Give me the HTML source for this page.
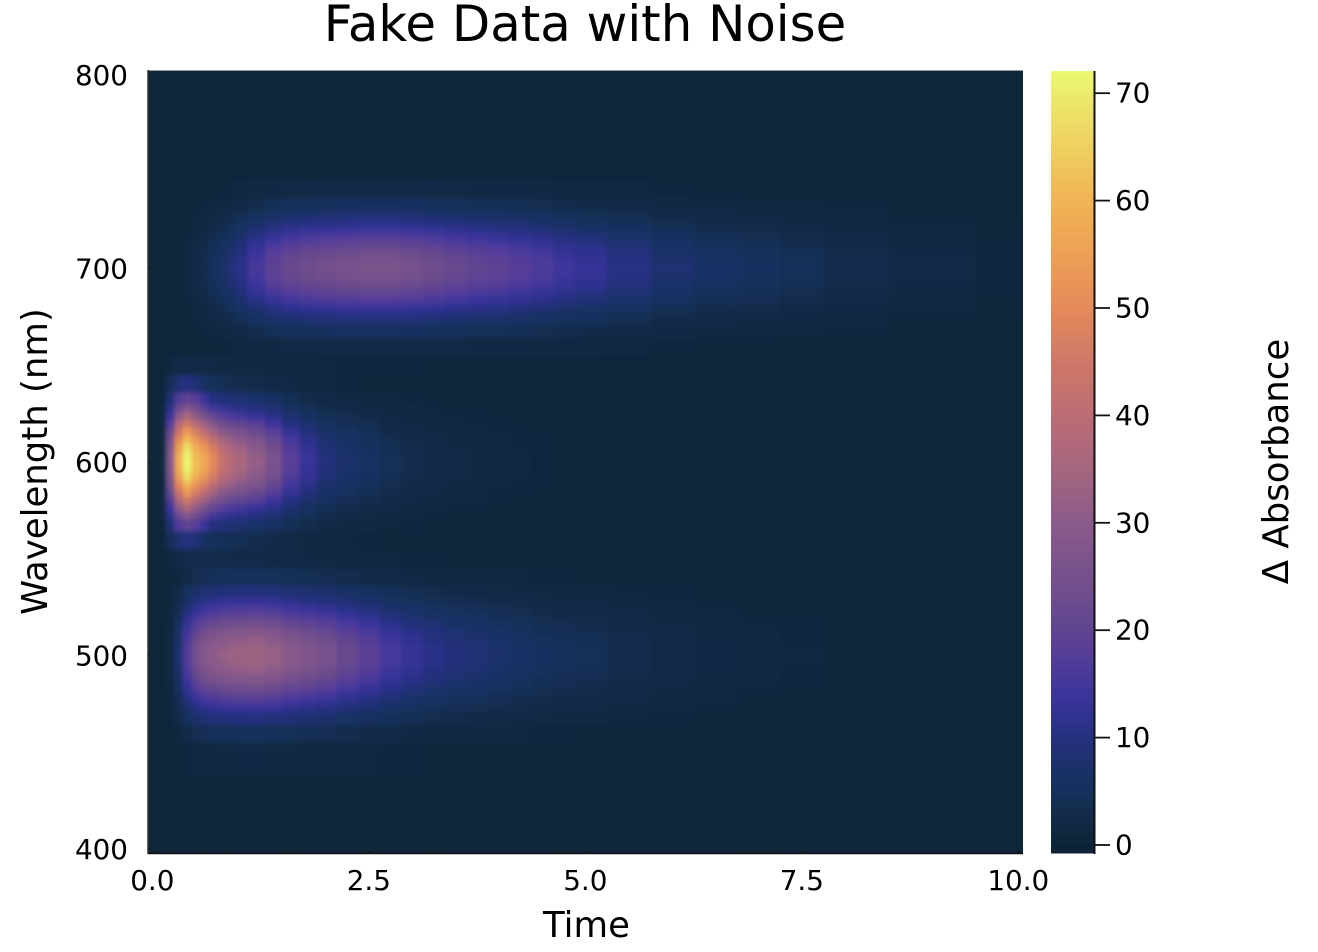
<!DOCTYPE html>
<html lang="en">
<head>
<meta charset="utf-8">
<title>Fake Data with Noise</title>
<style>
html,body{margin:0;padding:0;background:#fff;}
svg{display:block;}
text{font-family:"DejaVu Sans","Liberation Sans",sans-serif;fill:#000;}
</style>
</head>
<body>
<svg id="chart" xmlns="http://www.w3.org/2000/svg" width="1318" height="952" viewBox="0 0 1318 952">
  <defs>
    <clipPath id="plot-clip"><rect x="148" y="71" width="875" height="782"/></clipPath>
    <filter id="soften" x="-5%" y="-5%" width="110%" height="110%" color-interpolation-filters="sRGB"><feGaussianBlur stdDeviation="2"/></filter>
  </defs>
  <text x="585" y="41" font-size="49.8" text-anchor="middle">Fake Data with Noise</text>
  <g clip-path="url(#plot-clip)">
    <rect x="148" y="71" width="875" height="782" fill="#0e263a"/>
    <g id="cells" filter="url(#soften)"></g>
  </g>
  <line x1="148" y1="70.5" x2="1023" y2="70.5" stroke="#999" stroke-width="1"/>
  <line x1="148" y1="70" x2="148" y2="854" stroke="#333" stroke-width="1.5"/>
  <line x1="148" y1="853.5" x2="1023" y2="853.5" stroke="#111" stroke-width="1.5"/>
  <g id="x-ticks"></g>
  <g id="y-ticks"></g>
  <text x="586.5" y="937" font-size="35.5" text-anchor="middle">Time</text>
  <text x="47" y="461.5" font-size="35.5" text-anchor="middle" transform="rotate(-90 47 461.5)">Wavelength (nm)</text>
  <g id="colorbar"></g>
  <line x1="1094.5" y1="71" x2="1094.5" y2="854" stroke="#111" stroke-width="2"/>
  <g id="cb-ticks"></g>
  <text x="1288" y="461.5" font-size="35.5" text-anchor="middle" transform="rotate(-90 1288 461.5)">Δ Absorbance</text>
</svg>
<script>
const xTickValues = [0, 2.5, 5, 7.5, 10];
const xTickLabels = ["0.0", "2.5", "5.0", "7.5", "10.0"];
const yTickValues = [400, 500, 600, 700, 800];
const yTickLabels = ["400", "500", "600", "700", "800"];
const cbTickValues = [0, 10, 20, 30, 40, 50, 60, 70];
const cbTickLabels = ["0", "10", "20", "30", "40", "50", "60", "70"];
const cbRange = [-0.74, 72.07];

const times = [0,.1,.2,.3,.4,.5,.6,.7,.8,.9,1,1.2,1.4,1.6,1.8,2,2.25,2.5,2.75,3,3.25,3.5,3.75,4,4.25,4.5,4.75,5,5.5,6,6.5,7,7.5,8,9,10];
const wavelengths = [790,770,752,740,732,728,724,720,716,712,708,704,700,696,692,688,684,680,676,672,668,660,650,640,632,628,624,620,616,612,608,604,600,596,592,588,584,580,576,572,568,560,550,540,532,528,524,520,516,512,508,504,500,496,492,488,484,480,476,472,468,460,450,425,405];
const absorbance = [
/*790*/[.5,.5,.4,.5,.5,.6,.5,.5,.4,.5,.5,.5,.6,.5,.5,.4,.5,.5,.5,.6,.5,.5,.4,.5,.5,.5,.6,.5,.5,.5,.4,.5,.5,.5,.4,.5],
/*770*/[.4,.5,.5,.5,.5,.5,.4,.5,.6,.5,.5,.5,.5,.4,.5,.5,.6,.5,.5,.5,.4,.5,.5,.5,.5,.6,.5,.5,.4,.5,.5,.5,.5,.6,.5,.5],
/*752*/[.5,.5,.5,.5,.5,.5,.5,.6,.6,.6,.7,.7,.8,.8,.8,.9,.9,.9,.9,.9,.8,.8,.8,.8,.8,.7,.7,.7,.7,.6,.6,.6,.6,.5,.5,.5],
/*740*/[.5,.5,.5,.5,.6,.7,.8,.9,1,1.2,1.4,1.8,2.1,2.3,2.5,2.5,2.6,2.7,2.7,2.6,2.5,2.3,2.2,2.1,2,1.9,1.7,1.6,1.4,1.1,1,.9,.8,.8,.7,.6],
/*732*/[.5,.5,.5,.6,.7,.9,1.1,1.4,1.7,2.1,2.7,3.6,4.4,4.9,5.2,5.4,5.7,5.8,5.8,5.5,5.2,4.9,4.6,4.4,4.1,3.8,3.4,3.1,2.6,2,1.7,1.5,1.3,1.1,.9,.6],
/*728*/[.5,.5,.6,.6,.8,1.1,1.4,1.8,2.3,2.9,3.6,5,6.2,6.9,7.4,7.7,8,8.1,8.1,7.8,7.4,6.9,6.5,6.2,5.7,5.3,4.7,4.2,3.5,2.7,2.3,2,1.7,1.4,1,.7],
/*724*/[.5,.5,.6,.7,.9,1.3,1.7,2.3,3,3.8,4.8,6.7,8.3,9.3,10,10.4,10.8,11,11,10.6,10,9.3,8.7,8.3,7.7,7,6.3,5.6,4.6,3.6,3,2.6,2.1,1.7,1.2,.8],
/*720*/[.5,.5,.6,.8,1,1.6,2.1,2.9,3.7,4.8,6.2,8.6,10.7,12,12.9,13.4,14,14.2,14.2,13.7,12.9,12,11.3,10.7,9.9,9.1,8,7.2,5.9,4.5,3.7,3.2,2.7,2.1,1.5,.9],
/*716*/[.5,.5,.6,.8,1.2,1.8,2.5,3.5,4.5,5.9,7.6,10.6,13.3,15,16,16.7,17.4,17.7,17.7,17,16,15,14,13.3,12.3,11.3,10,8.9,7.2,5.6,4.5,3.9,3.2,2.5,1.7,1],
/*712*/[.5,.5,.7,.9,1.3,2.1,2.9,4.1,5.3,6.9,8.9,12.5,15.7,17.7,18.9,19.7,20.5,20.9,20.9,20.1,18.9,17.7,16.5,15.7,14.5,13.3,11.7,10.5,8.5,6.5,5.3,4.5,3.7,2.9,1.9,1.1],
/*708*/[.5,.5,.7,1,1.4,2.3,3.2,4.6,5.9,7.7,10,14,17.7,20,21.3,22,23,23.6,23.6,22.7,21.3,20,18.6,17.7,16.4,15,13,11.8,9.6,7.3,5.9,5,4.1,3.2,2.1,1.1],
/*704*/[.5,.5,.7,1,1.5,2.5,3.4,4.9,6.4,8.3,10.7,15,19,21.5,23,24,24.9,25.4,25.4,24.4,23,21.5,20,19,17.6,16.1,14.2,12.7,10.3,7.8,6.4,5.4,4.4,3.4,2.3,1.2],
/*700*/[.5,.5,.7,1,1.5,2.5,3.5,5,6.5,8.5,11,15.5,19.5,22,23.5,24.5,25.5,26,26,25,23.5,22,20.5,19.5,18,16.5,14.5,13,10.5,8,6.5,5.5,4.5,3.5,2.3,1.2],
/*696*/[.5,.5,.7,1,1.5,2.5,3.4,4.9,6.4,8.3,10.7,15,19,21.5,23,24,24.9,25.4,25.4,24.4,23,21.5,20,19,17.6,16.1,14.2,12.7,10.3,7.8,6.4,5.4,4.4,3.4,2.3,1.2],
/*692*/[.5,.5,.7,1,1.4,2.3,3.2,4.6,5.9,7.7,10,14,17.7,20,21.3,22,23,23.6,23.6,22.7,21.3,20,18.6,17.7,16.4,15,13,11.8,9.6,7.3,5.9,5,4.1,3.2,2.1,1.1],
/*688*/[.5,.5,.7,.9,1.3,2.1,2.9,4.1,5.3,6.9,8.9,12.5,15.7,17.7,18.9,19.7,20.5,20.9,20.9,20.1,18.9,17.7,16.5,15.7,14.5,13.3,11.7,10.5,8.5,6.5,5.3,4.5,3.7,2.9,1.9,1.1],
/*684*/[.5,.5,.6,.8,1.2,1.8,2.5,3.5,4.5,5.9,7.6,10.6,13.3,15,16,16.7,17.4,17.7,17.7,17,16,15,14,13.3,12.3,11.3,10,8.9,7.2,5.6,4.5,3.9,3.2,2.5,1.7,1],
/*680*/[.5,.5,.6,.8,1,1.6,2.1,2.9,3.7,4.8,6.2,8.6,10.7,12,12.9,13.4,14,14.2,14.2,13.7,12.9,12,11.3,10.7,9.9,9.1,8,7.2,5.9,4.5,3.7,3.2,2.7,2.1,1.5,.9],
/*676*/[.5,.5,.6,.7,.9,1.3,1.7,2.3,3,3.8,4.8,6.7,8.3,9.3,10,10.4,10.8,11,11,10.6,10,9.3,8.7,8.3,7.7,7,6.3,5.6,4.6,3.6,3,2.6,2.1,1.7,1.2,.8],
/*672*/[.5,.5,.6,.6,.8,1.1,1.4,1.8,2.3,2.9,3.6,5,6.2,6.9,7.4,7.7,8,8.1,8.1,7.8,7.4,6.9,6.5,6.2,5.7,5.3,4.7,4.2,3.5,2.7,2.3,2,1.7,1.4,1,.7],
/*668*/[.5,.5,.5,.6,.7,.9,1.1,1.4,1.7,2.1,2.7,3.6,4.4,4.9,5.2,5.4,5.7,5.8,5.8,5.5,5.2,4.9,4.6,4.4,4.1,3.8,3.4,3.1,2.6,2,1.7,1.5,1.3,1.1,.9,.6],
/*660*/[.5,.5,.5,.5,.6,.7,.8,.9,1,1.2,1.4,1.8,2.1,2.3,2.5,2.5,2.6,2.7,2.7,2.6,2.5,2.3,2.2,2.1,2,1.9,1.7,1.6,1.4,1.1,1,.9,.8,.8,.7,.6],
/*650*/[.5,.5,1.3,2.2,2.7,2.4,2.3,2.1,1.9,1.8,1.8,1.8,1.7,1.5,1.4,1.3,1.2,1.2,1.1,1.1,1,1,.9,.9,.9,.8,.8,.8,.7,.7,.6,.6,.6,.6,.5,.5],
/*640*/[.5,.6,4.3,8.3,10,8.9,6,4.8,4.2,3.8,3.6,3.2,2.7,2,1.6,1.3,1.1,1,.8,.8,.7,.7,.6,.6,.6,.6,.5,.5,.5,.5,.5,.5,.5,.5,.5,.5],
/*632*/[.5,.7,8,17,20,18,14,10,9,8.5,7.9,7.1,5.9,4.2,3.2,2.4,1.9,1.6,1.3,1.1,1,.9,.8,.7,.7,.6,.6,.6,.6,.5,.5,.5,.5,.5,.5,.5],
/*628*/[.5,.8,11,22,27,24,19,15,13,12,11,10,8,5.9,4.4,3.2,2.6,2.1,1.7,1.4,1.2,1,.9,.8,.8,.7,.6,.6,.6,.6,.5,.5,.5,.5,.5,.5],
/*624*/[.5,.8,14,29,36,31,25,21,18,16,15,13,11,7.9,5.8,4.2,3.4,2.8,2.1,1.7,1.4,1.2,1.1,1,.9,.8,.7,.7,.6,.6,.5,.5,.5,.5,.5,.5],
/*620*/[.5,.9,17,36,44,38,33,27,24,21,20,18,14,10,7.5,5.4,4.3,3.5,2.7,2.1,1.7,1.5,1.3,1.1,1,.9,.8,.7,.7,.6,.6,.5,.5,.5,.5,.5],
/*616*/[.5,1,21,43,53,46,40,34,29,27,25,22,18,12.6,9.3,6.6,5.2,4.2,3.2,2.5,2.1,1.7,1.4,1.2,1.1,1,.8,.8,.7,.6,.6,.5,.5,.5,.5,.5],
/*612*/[.5,1,24,49,60,52,47,40,35,32,29,26,21,15,11,7.7,6.1,4.9,3.7,2.9,2.3,1.9,1.6,1.4,1.2,1.1,.9,.8,.7,.7,.6,.5,.5,.5,.5,.5],
/*608*/[.5,1,26,54,67,58,52,46,39,36,33,29,24,16.8,12.3,8.7,6.8,5.5,4.1,3.2,2.6,2.1,1.8,1.5,1.3,1.1,.9,.9,.8,.7,.6,.5,.5,.5,.5,.5],
/*604*/[.5,1,28,57,71,61,56,49,42,38,35,31,25.5,18,13,9.3,7.3,5.9,4.4,3.4,2.7,2.3,1.9,1.6,1.4,1.2,1,.9,.8,.7,.6,.5,.5,.5,.5,.5],
/*600*/[.5,1,28,58,72,62,57,50,43,39,36,32,26,18.5,13.5,9.5,7.5,6,4.5,3.5,2.8,2.3,1.9,1.6,1.4,1.2,1,.9,.8,.7,.6,.5,.5,.5,.5,.5],
/*596*/[.5,1,28,57,71,61,56,49,42,38,35,31,25.5,18,13,9.3,7.3,5.9,4.4,3.4,2.7,2.3,1.9,1.6,1.4,1.2,1,.9,.8,.7,.6,.5,.5,.5,.5,.5],
/*592*/[.5,1,26,54,67,58,52,46,39,36,33,29,24,16.8,12.3,8.7,6.8,5.5,4.1,3.2,2.6,2.1,1.8,1.5,1.3,1.1,.9,.9,.8,.7,.6,.5,.5,.5,.5,.5],
/*588*/[.5,1,24,49,60,52,47,40,35,32,29,26,21,15,11,7.7,6.1,4.9,3.7,2.9,2.3,1.9,1.6,1.4,1.2,1.1,.9,.8,.7,.7,.6,.5,.5,.5,.5,.5],
/*584*/[.5,1,21,43,53,46,40,34,29,27,25,22,18,12.6,9.3,6.6,5.2,4.2,3.2,2.5,2.1,1.7,1.4,1.2,1.1,1,.8,.8,.7,.6,.6,.5,.5,.5,.5,.5],
/*580*/[.5,.9,17,36,44,38,33,27,24,21,20,18,14,10,7.5,5.4,4.3,3.5,2.7,2.1,1.7,1.5,1.3,1.1,1,.9,.8,.7,.7,.6,.6,.5,.5,.5,.5,.5],
/*576*/[.5,.8,14,29,36,31,25,21,18,16,15,13,11,7.9,5.8,4.2,3.4,2.8,2.1,1.7,1.4,1.2,1.1,1,.9,.8,.7,.7,.6,.6,.5,.5,.5,.5,.5,.5],
/*572*/[.5,.8,11,22,27,24,19,15,13,12,11,10,8,5.9,4.4,3.2,2.6,2.1,1.7,1.4,1.2,1,.9,.8,.8,.7,.6,.6,.6,.6,.5,.5,.5,.5,.5,.5],
/*568*/[.5,.7,8,17,20,18,14,10,9,8.5,7.9,7.1,5.9,4.2,3.2,2.4,1.9,1.6,1.3,1.1,1,.9,.8,.7,.7,.6,.6,.6,.6,.5,.5,.5,.5,.5,.5,.5],
/*560*/[.5,.6,4.3,8.3,10,8.9,6.2,5.1,4.5,4.2,4,3.6,3.1,2.4,1.9,1.6,1.3,1.2,1,.9,.8,.8,.7,.6,.6,.6,.5,.5,.5,.5,.5,.5,.5,.5,.5,.5],
/*550*/[.5,.5,1.4,2.5,3.4,3.4,3.4,3.3,3.2,3.1,3,3,2.7,2.3,2.1,1.9,1.6,1.5,1.3,1.2,1.1,1,.9,.8,.8,.7,.7,.7,.6,.6,.6,.5,.5,.5,.5,.5],
/*540*/[.5,.5,.7,1.4,2.8,3.7,4.3,4.6,4.8,4.9,5,5,4.8,4.4,4.1,3.9,3.4,3,2.5,2.2,1.9,1.7,1.6,1.4,1.3,1.2,1.1,1,.9,.8,.7,.6,.6,.6,.5,.5],
/*532*/[.5,.5,.9,2.4,5.2,7.2,8.3,8.8,9.3,9.5,9.7,9.8,9.4,8.6,8,7.5,6.5,5.6,4.7,4,3.4,3,2.7,2.4,2.2,1.9,1.8,1.6,1.3,1.1,.9,.8,.7,.6,.6,.5],
/*528*/[.5,.5,1.1,3.1,6.9,9.5,11,11.8,12.3,12.7,12.9,13,12.5,11.4,10.6,9.9,8.6,7.4,6.1,5.2,4.4,3.9,3.5,3.1,2.8,2.4,2.2,2,1.6,1.3,1.1,.9,.8,.7,.6,.5],
/*524*/[.5,.5,1.2,3.9,8.8,12.2,14.1,15.1,15.8,16.3,16.6,16.8,16.1,14.6,13.6,12.7,11,9.5,7.8,6.6,5.6,4.9,4.4,3.9,3.4,2.9,2.7,2.4,2,1.6,1.3,1,.9,.7,.6,.5],
/*520*/[.5,.5,1.4,4.7,10.8,15,17.5,18.7,19.6,20.2,20.5,20.8,19.9,18.1,16.9,15.7,13.5,11.7,9.6,8.1,6.9,6,5.4,4.7,4.1,3.5,3.2,2.9,2.3,1.8,1.5,1.2,1,.8,.7,.5],
/*516*/[.5,.5,1.6,5.6,12.8,17.9,20.8,22.3,23.4,24.1,24.5,24.8,23.7,21.6,20,18.7,16,14,11.4,9.6,8.1,7,6.3,5.6,4.9,4.1,3.8,3.4,2.7,2.1,1.7,1.3,1.1,.9,.7,.5],
/*512*/[.5,.5,1.8,6.3,14.7,20.5,23.9,25.6,26.8,27.6,28,28.5,27.2,24.7,23,21.4,18.5,16,13,11,9.3,8,7.2,6.3,5.5,4.7,4.3,3.8,3,2.3,1.8,1.4,1.2,.9,.8,.5],
/*508*/[.5,.5,1.9,7,16,22.6,26.3,28.2,29.6,30.5,31,31.4,30,27.3,25.4,23.6,20.3,17.6,14.3,12,10,8.8,7.9,7,6,5.1,4.7,4.2,3.3,2.5,2,1.5,1.2,1,.8,.5],
/*504*/[.5,.5,2,7.4,17,24,28,30,31,32,32.8,33.3,31.9,28.9,27,25,21.6,18.6,15.2,12.8,10.8,9.3,8.3,7.4,6.4,5.4,4.9,4.4,3.4,2.7,2.1,1.6,1.3,1,.8,.5],
/*500*/[.5,.5,2,7.5,17.5,24.5,28.5,30.5,32,33,33.5,34,32.5,29.5,27.5,25.5,22,19,15.5,13,11,9.5,8.5,7.5,6.5,5.5,5,4.5,3.5,2.7,2.1,1.6,1.3,1,.8,.5],
/*496*/[.5,.5,2,7.4,17,24,28,30,31,32,32.8,33.3,31.9,28.9,27,25,21.6,18.6,15.2,12.8,10.8,9.3,8.3,7.4,6.4,5.4,4.9,4.4,3.4,2.7,2.1,1.6,1.3,1,.8,.5],
/*492*/[.5,.5,1.9,7,16,22.6,26.3,28.2,29.6,30.5,31,31.4,30,27.3,25.4,23.6,20.3,17.6,14.3,12,10,8.8,7.9,7,6,5.1,4.7,4.2,3.3,2.5,2,1.5,1.2,1,.8,.5],
/*488*/[.5,.5,1.8,6.3,14.7,20.5,23.9,25.6,26.8,27.6,28,28.5,27.2,24.7,23,21.4,18.5,16,13,11,9.3,8,7.2,6.3,5.5,4.7,4.3,3.8,3,2.3,1.8,1.4,1.2,.9,.8,.5],
/*484*/[.5,.5,1.6,5.6,12.8,17.9,20.8,22.3,23.4,24.1,24.5,24.8,23.7,21.6,20,18.7,16,14,11.4,9.6,8.1,7,6.3,5.6,4.9,4.1,3.8,3.4,2.7,2.1,1.7,1.3,1.1,.9,.7,.5],
/*480*/[.5,.5,1.4,4.7,10.8,15,17.5,18.7,19.6,20.2,20.5,20.8,19.9,18.1,16.9,15.7,13.5,11.7,9.6,8.1,6.9,6,5.4,4.7,4.1,3.5,3.2,2.9,2.3,1.8,1.5,1.2,1,.8,.7,.5],
/*476*/[.5,.5,1.2,3.9,8.8,12.2,14.1,15.1,15.8,16.3,16.6,16.8,16.1,14.6,13.6,12.7,11,9.5,7.8,6.6,5.6,4.9,4.4,3.9,3.4,2.9,2.7,2.4,2,1.6,1.3,1,.9,.7,.6,.5],
/*472*/[.5,.5,1.1,3.1,6.9,9.5,11,11.8,12.3,12.7,12.9,13,12.5,11.4,10.6,9.9,8.6,7.4,6.1,5.2,4.4,3.9,3.5,3.1,2.8,2.4,2.2,2,1.6,1.3,1.1,.9,.8,.7,.6,.5],
/*468*/[.5,.5,.9,2.4,5.2,7.2,8.3,8.8,9.3,9.5,9.7,9.8,9.4,8.6,8,7.5,6.5,5.6,4.7,4,3.4,3,2.7,2.4,2.2,1.9,1.8,1.6,1.3,1.1,.9,.8,.7,.6,.6,.5],
/*460*/[.5,.5,.7,1.4,2.8,3.7,4.3,4.6,4.8,4.9,5,5,4.8,4.4,4.1,3.9,3.4,3,2.5,2.2,1.9,1.7,1.6,1.4,1.3,1.2,1.1,1,.9,.8,.7,.6,.6,.6,.5,.5],
/*450*/[.5,.5,.6,.8,1.2,1.6,1.7,1.8,1.9,1.9,2,2,1.9,1.8,1.7,1.6,1.4,1.3,1.2,1.1,1,.9,.9,.8,.8,.7,.7,.7,.6,.6,.6,.5,.5,.5,.5,.5],
/*425*/[.5,.4,.5,.5,.6,.5,.5,.5,.6,.5,.5,.6,.5,.5,.5,.6,.5,.5,.4,.5,.5,.5,.5,.4,.5,.5,.5,.5,.4,.5,.5,.5,.5,.6,.5,.5],
/*405*/[.5,.5,.4,.5,.5,.5,.4,.5,.5,.4,.5,.5,.5,.4,.5,.5,.5,.4,.5,.5,.4,.5,.5,.5,.5,.5,.4,.5,.5,.5,.5,.4,.5,.5,.5,.5]
];
const colorStops = [
  [-0.74,"#0f2236"],[0,"#0d2437"],[0.5,"#0e263a"],[3,"#132b4a"],[5,"#17305c"],[7,"#1a3168"],[10,"#25307f"],
  [12,"#2f3290"],[14,"#3b349a"],[16,"#4a3a9a"],[18,"#573d98"],[20,"#5f4492"],[23,"#6c4c8c"],[26,"#7a528c"],
  [30,"#8a5a8a"],[35,"#a5667f"],[40,"#bc6c74"],[45,"#cf7868"],[50,"#e58a5a"],[55,"#eda055"],[60,"#f1b455"],
  [65,"#eecf5f"],[70,"#eceb6c"],[72.07,"#ecf870"]
];

const NS = "http://www.w3.org/2000/svg";
const xScale = t => 152.3 + 86.6 * t;
const yScale = w => 75 + (800 - w) * 1.935;
const cbScale = v => 845 - 10.74 * v;
function hexToRgb(h){return [1,3,5].map(i=>parseInt(h.slice(i,i+2),16));}
function colorFor(v){
  if(v<=colorStops[0][0]) return colorStops[0][1];
  for(let i=1;i<colorStops.length;i++){
    if(v<=colorStops[i][0]){
      const [v0,c0]=colorStops[i-1],[v1,c1]=colorStops[i];
      const f=(v-v0)/(v1-v0),a=hexToRgb(c0),b=hexToRgb(c1);
      return "rgb("+a.map((x,k)=>Math.round(x+(b[k]-x)*f)).join(",")+")";
    }
  }
  return colorStops[colorStops.length-1][1];
}
function makeEl(tag,attrs,parent){
  const el=document.createElementNS(NS,tag);
  for(const k in attrs) el.setAttribute(k,attrs[k]);
  parent.appendChild(el);
  return el;
}
const cellsG=document.getElementById("cells");
const xEdges=times.map((t,i)=>i===0?148:(xScale(times[i-1])+xScale(t))/2);
xEdges.push(1023);
const yEdges=wavelengths.map((w,i)=>i===0?71:(yScale(wavelengths[i-1])+yScale(w))/2);
yEdges.push(853);
absorbance.forEach((row,r)=>{
  row.forEach((v,c)=>{
    const el=makeEl("rect",{x:xEdges[c],y:yEdges[r],width:xEdges[c+1]-xEdges[c]+0.5,height:yEdges[r+1]-yEdges[r]+0.5,fill:colorFor(v),"shape-rendering":"crispEdges"},cellsG);
    
    
  });
});
const xTicksG=document.getElementById("x-ticks");
xTickValues.forEach((t,i)=>{
  const line=makeEl("line",{x1:xScale(t),x2:xScale(t),y1:851,y2:853,stroke:"#111","stroke-width":1.2},xTicksG);
  
  
  const label=makeEl("text",{x:xScale(t),y:890,"font-size":27.8,"text-anchor":"middle"},xTicksG);
  label.textContent=xTickLabels[i];
  
  
});
const yTicksG=document.getElementById("y-ticks");
yTickValues.forEach((w,i)=>{
  const line=makeEl("line",{x1:148,x2:150,y1:yScale(w),y2:yScale(w),stroke:"#111","stroke-width":1.2},yTicksG);
  
  
  const label=makeEl("text",{x:128,y:yScale(w)+10,"font-size":27.8,"text-anchor":"end"},yTicksG);
  label.textContent=yTickLabels[i];
  
  
});
const cbG=document.getElementById("colorbar");
for(let i=0;i<156;i++){
  const v0=cbRange[0]+(cbRange[1]-cbRange[0])*i/156;
  const v1=cbRange[0]+(cbRange[1]-cbRange[0])*(i+1)/156;
  const el=makeEl("rect",{x:1051,y:cbScale(v1),width:43,height:cbScale(v0)-cbScale(v1)+0.5,fill:colorFor((v0+v1)/2),"shape-rendering":"crispEdges"},cbG);
  
  
}
const cbTicksG=document.getElementById("cb-ticks");
cbTickValues.forEach((v,i)=>{
  const line=makeEl("line",{x1:1094,x2:1110,y1:cbScale(v),y2:cbScale(v),stroke:"#111","stroke-width":1.8},cbTicksG);
  
  
  const label=makeEl("text",{x:1115,y:cbScale(v)+9.5,"font-size":27.8},cbTicksG);
  label.textContent=cbTickLabels[i];
  
  
});
</script>
</body>
</html>
